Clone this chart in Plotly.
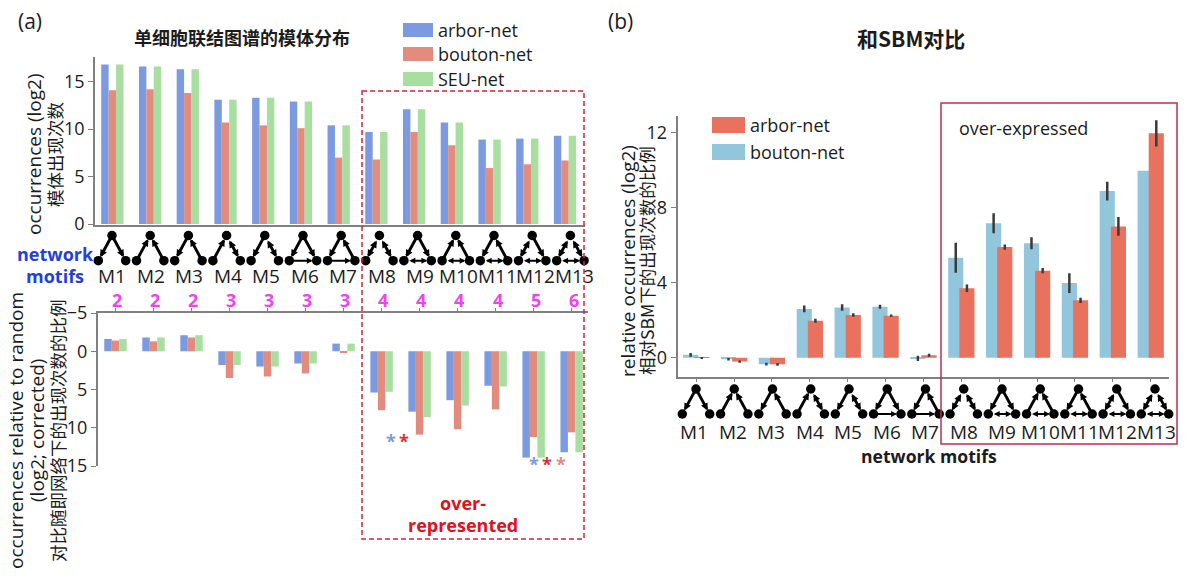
import plotly.graph_objects as go

W, H = 1187, 578
FONT = "Open Sans, Noto Sans CJK SC, sans-serif"
CJK = "Noto Sans CJK SC, Open Sans, sans-serif"
INK = "#1c1c1c"
AXIS = "#808080"

motifs = ["M1", "M2", "M3", "M4", "M5", "M6", "M7", "M8", "M9", "M10", "M11", "M12", "M13"]
edge_counts = ["2", "2", "2", "3", "3", "3", "3", "4", "4", "4", "4", "5", "6"]

top_arbor = [16.8, 16.6, 16.3, 13.1, 13.3, 12.9, 10.4, 9.7, 12.1, 10.7, 8.9, 9.0, 9.3]
top_bouton = [14.1, 14.2, 13.8, 10.7, 10.4, 10.1, 7.0, 6.8, 9.7, 8.3, 5.9, 6.3, 6.7]
top_seu = [16.8, 16.6, 16.3, 13.1, 13.3, 12.9, 10.4, 9.7, 12.1, 10.7, 8.9, 9.0, 9.3]

rand_arbor = [-1.6, -1.8, -2.1, 1.8, 2.0, 1.6, -1.0, 5.4, 7.9, 6.4, 4.5, 13.9, 13.2]
rand_bouton = [-1.4, -1.3, -1.8, 3.5, 3.3, 2.9, 0.1, 7.7, 10.9, 10.2, 7.6, 11.2, 10.6]
rand_seu = [-1.6, -1.8, -2.1, 1.8, 2.0, 1.6, -1.0, 5.3, 8.6, 7.1, 4.6, 13.9, 13.2]

sbm_bouton = [0.16, -0.08, -0.34, 2.6, 2.68, 2.72, -0.03, 5.33, 7.17, 6.1, 3.98, 8.89, 9.97]
sbm_bouton_err = [0.1, 0.07, 0.07, 0.18, 0.17, 0.11, 0.14, 0.8, 0.53, 0.32, 0.53, 0.5, 0]
sbm_arbor = [-0.01, -0.2, -0.35, 1.97, 2.28, 2.24, 0.13, 3.7, 5.9, 4.64, 3.06, 7.0, 11.97]
sbm_arbor_err = [0.05, 0.06, 0.07, 0.11, 0.09, 0.06, 0.08, 0.2, 0.14, 0.14, 0.14, 0.5, 0.7]

# T top node, L left node, R right node. ">" one-way a to b, "<>" both ways
motif_edges = [
    [("T", "L", ">"), ("T", "R", ">")],
    [("L", "T", ">"), ("R", "T", ">")],
    [("T", "L", ">"), ("R", "T", ">")],
    [("L", "T", ">"), ("T", "R", "<>")],
    [("T", "L", ">"), ("T", "R", "<>")],
    [("T", "L", ">"), ("T", "R", ">"), ("L", "R", ">")],
    [("T", "L", ">"), ("R", "T", ">"), ("L", "R", ">")],
    [("T", "L", "<>"), ("T", "R", "<>")],
    [("T", "L", ">"), ("T", "R", ">"), ("L", "R", "<>")],
    [("L", "T", ">"), ("R", "T", ">"), ("L", "R", "<>")],
    [("T", "L", ">"), ("R", "T", ">"), ("L", "R", "<>")],
    [("T", "L", "<>"), ("T", "R", ">"), ("L", "R", "<>")],
    [("T", "L", "<>"), ("T", "R", "<>"), ("L", "R", "<>")],
]

C_ARBOR, C_BOUTON, C_SEU = "#7c9ae0", "#e28c80", "#a8dea0"
C_B_BLUE, C_B_RED = "#92c6dd", "#e8725e"


def dx(a, b):
    return [a / W, b / W]


def dy(top, bottom):
    return [1 - bottom / H, 1 - top / H]


fig = go.Figure()


def bars(vals, name, color, xa, ya, err=None):
    kw = {}
    if err is not None:
        kw["error_y"] = dict(type="data", array=err, width=0, thickness=2.5, color="#3a3a3a")
        kw["width"] = 0.4
    fig.add_trace(go.Bar(x=motifs, y=vals, name=name, marker=dict(color=color, line_width=0),
                         xaxis=xa, yaxis=ya, showlegend=False, **kw))


for v, n, c in [(top_arbor, "arbor-net", C_ARBOR), (top_bouton, "bouton-net", C_BOUTON), (top_seu, "SEU-net", C_SEU)]:
    bars(v, n, c, "x", "y")
for v, n, c in [(rand_arbor, "arbor-net", C_ARBOR), (rand_bouton, "bouton-net", C_BOUTON), (rand_seu, "SEU-net", C_SEU)]:
    bars(v, n, c, "x2", "y2")
bars(sbm_bouton, "bouton-net", C_B_BLUE, "x3", "y3", sbm_bouton_err)
bars(sbm_arbor, "arbor-net", C_B_RED, "x3", "y3", sbm_arbor_err)

annots = []
shapes = []


def text(x, y, s, size=19, color=INK, bold=False, font=FONT, angle=0, anchor="center"):
    annots.append(dict(x=x, y=y, xref="x4", yref="y4", text=f"<b>{s}</b>" if bold else s, showarrow=False,
                       font=dict(size=size, color=color, family=font), textangle=angle,
                       xanchor=anchor, yanchor="middle"))


def draw_motifs(x0, step, half, ytop, ybot):
    nx, ny = [], []
    for i, edges in enumerate(motif_edges):
        c = x0 + i * step
        pos = {"T": (c, ytop), "L": (c - half, ybot), "R": (c + half, ybot)}
        for k in pos.values():
            nx.append(k[0])
            ny.append(k[1])
        for a, b, kind in edges:
            both = kind == "<>"
            horizontal = a in "LR" and b in "LR"
            size = 0.62 if horizontal else 0.5
            width = 1.9 if horizontal else 2.9
            annots.append(dict(x=pos[b][0], y=pos[b][1], ax=pos[a][0], ay=pos[a][1],
                               xref="x4", yref="y4", axref="x4", ayref="y4", text="",
                               showarrow=True, arrowhead=2, arrowsize=size, arrowwidth=width,
                               arrowcolor="black", standoff=4, startstandoff=4 if both else 0,
                               startarrowhead=2, startarrowsize=size,
                               arrowside="end+start" if both else "end"))
    fig.add_trace(go.Scatter(x=nx, y=ny, mode="markers", xaxis="x4", yaxis="y4", showlegend=False,
                             marker=dict(color="black", size=9.5, line_width=0)))


draw_motifs(112, 38.2, 13.7, 235.5, 260.7)
draw_motifs(696, 38.25, 13.7, 389, 414)

# panel (a)
text(16, 21, "(a)", 21, anchor="left")
text(242, 37, "单细胞联结图谱的模体分布", 18, bold=True, font=CJK)
for i, m in enumerate(motifs):
    text(112 + 38.5 * i, 276, m)
    text(116.5 + 38.1 * i, 300, edge_counts[i], 18, color="#ee44ee", bold=True)
text(55, 254, "network", 18, color="#1f3fe0", bold=True)
text(55, 276, "motifs", 18, color="#1f3fe0", bold=True)
text(34, 154, "occurrences (log2)", angle=-90)
text(54, 155, "模体出现次数", 17.5, angle=-90, font=CJK)
text(16, 431, "occurrences relative to random", 19, angle=-90)
text(37, 431, "(log2; corrected)", 19, angle=-90)
text(57, 431, "对比随即网络下的出现次数的比例", 17.5, angle=-90, font=CJK)
text(463, 503, "over-", 18, color="#e01020", bold=True)
text(463, 525, "represented", 18, color="#e01020", bold=True)
for name, y, c in [("arbor-net", 30, C_ARBOR), ("bouton-net", 54, C_BOUTON), ("SEU-net", 79, C_SEU)]:
    shapes.append(dict(type="rect", xref="x4", yref="y4", x0=403, x1=433, y0=y - 7, y1=y + 7,
                       fillcolor=c, line_width=0))
    text(436, y, name, 18, anchor="left")
shapes.append(dict(type="rect", xref="x4", yref="y4", x0=362, x1=584, y0=91, y1=539,
                   line=dict(color="#d8203a", width=1.5, dash="5px,3px")))
for x, y, c in [(391, 441, C_ARBOR), (404, 441, "#e0303a"), (534, 464, C_ARBOR), (547, 464, "#d8303a"), (561, 464, "#e28c80")]:
    text(x, y, "*", 18, color=c, bold=True)

# panel (b)
text(606, 21, "(b)", 21, anchor="left")
text(911, 38, "和SBM对比", 21, bold=True, font=CJK)
for i, m in enumerate(motifs):
    text(694 + 38.5 * i, 432, m)
text(929, 456, "network motifs", 17.6, bold=True)
text(628, 261, "relative occurrences (log2)", 19, angle=-90)
text(646, 261, "相对SBM下的出现次数的比例", 17.5, angle=-90, font=CJK)
shapes.append(dict(type="rect", xref="x4", yref="y4", x0=941, x1=1177, y0=103, y1=444,
                   line=dict(color="#c0304a", width=1.5)))
text(957, 128, "over-expressed", 18, anchor="left")
for name, y, c in [("arbor-net", 125, C_B_RED), ("bouton-net", 152, C_B_BLUE)]:
    shapes.append(dict(type="rect", xref="x4", yref="y4", x0=712, x1=745, y0=y - 8, y1=y + 8,
                       fillcolor=c, line_width=0))
    text(748, y, name, 18, anchor="left")

tickfont = dict(size=18, color=INK, family=FONT)
line = dict(showline=True, linecolor=AXIS, linewidth=1.5, zeroline=False, showgrid=False, automargin=False)
thick = {**line, "linewidth": 2}

fig.update_layout(
    template="none",
    width=W, height=H, margin=dict(l=0, r=0, t=0, b=0, pad=0), paper_bgcolor="white", plot_bgcolor="rgba(0,0,0,0)",
    barmode="group", bargap=0.41, showlegend=False, font=dict(family=FONT),
    annotations=annots, shapes=shapes,
    xaxis=dict(domain=dx(95, 585), range=[-0.46, 12.53], anchor="y", showticklabels=False, ticks="", **line),
    yaxis=dict(domain=dy(57, 225), range=[-0.1, 17.6], anchor="x", tickvals=[0, 5, 10, 15], ticks="outside",
               ticklen=5, tickcolor=AXIS, tickfont=tickfont, **line),
    xaxis2=dict(domain=dx(98, 588), range=[-0.46, 12.43], anchor="y2", side="top", showticklabels=False,
                ticks="outside", ticklen=3, tickcolor=AXIS, **line),
    yaxis2=dict(domain=dy(313, 466), range=[15, -5], anchor="x2", tickvals=[-5, 0, 5, 10, 15], ticks="outside",
                ticklen=5, tickcolor=AXIS, tickfont=tickfont, **thick),
    xaxis3=dict(domain=dx(677.5, 1168.5), range=[-0.494, 12.47], anchor="y3", showticklabels=False,
                ticks="outside", ticklen=4, tickcolor=AXIS, **line),
    yaxis3=dict(domain=dy(116, 376.7), range=[-1.01, 12.89], anchor="x3", tickvals=[0, 4, 8, 12], ticks="outside",
                ticklen=5, tickcolor=AXIS, tickfont=tickfont, **line),
    xaxis4=dict(domain=[0, 1], range=[0, W], anchor="y4", visible=False, fixedrange=True, automargin=False),
    yaxis4=dict(domain=[0, 1], range=[H, 0], anchor="x4", visible=False, fixedrange=True, automargin=False),
)

fig.write_html("out.html", config=dict(displayModeBar=False),
               post_script="document.body.style.margin='0';document.body.style.overflow='hidden';")
